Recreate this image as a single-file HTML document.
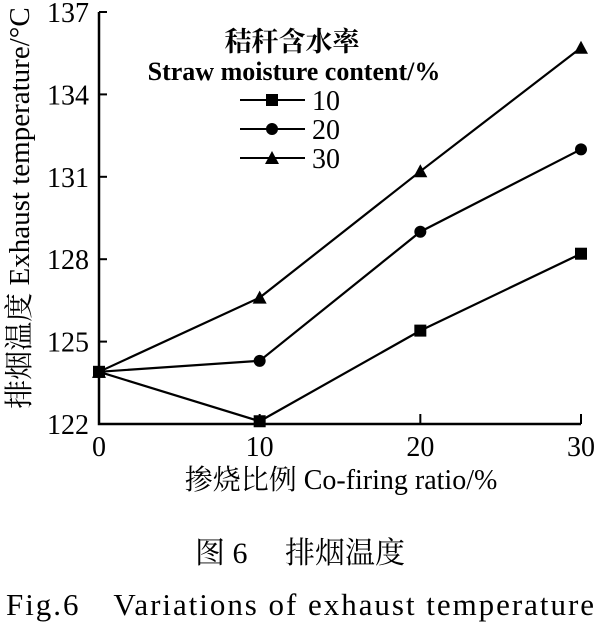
<!DOCTYPE html>
<html><head><meta charset="utf-8"><style>
body{margin:0;background:#fff;width:600px;height:629px;overflow:hidden}
svg text{font-family:"Liberation Serif","Noto Serif CJK SC",serif;fill:#000}
</style></head><body>
<svg width="600" height="629" viewBox="0 0 600 629">
<g id="axes"></g><g id="series"></g>
<text x="300" y="563" font-size="30" text-anchor="middle">图 6　 排烟温度</text>
<text x="300" y="615" font-size="31" text-anchor="middle" textLength="588">Fig.6　Variations of exhaust temperature</text>
</svg>
<script>
const categories=[0,10,20,30];
const yTicks=[122,125,128,131,134,137];
const series10=[123.9,122.1,125.4,128.2];
const series20=[123.9,124.3,129.0,132.0];
const series30=[123.9,126.6,131.2,135.7];
const seriesNames=["10","20","30"];
const NS="http://www.w3.org/2000/svg";
const X0=99,X1=581,Y0=424,Y1=12;
const xs=v=>X0+(v-0)/(30-0)*(X1-X0);
const ys=v=>Y0-(v-122)/(137-122)*(Y0-Y1);
function mk(t,a,p){const e=document.createElementNS(NS,t);for(const k in a)e.setAttribute(k,a[k]);p.appendChild(e);return e;}
const ax=document.getElementById('axes');
let l=mk('path',{d:`M${X0} ${Y1}V${Y0}H${X1}`,stroke:'#000','stroke-width':2.5,fill:'none'},ax);


yTicks.forEach(v=>{
 const t=mk('line',{x1:X0,x2:X0+8,y1:ys(v),y2:ys(v),stroke:'#000','stroke-width':2},ax);
 
 
 const tx=mk('text',{x:X0-10,y:ys(v)+10,'font-size':28,'text-anchor':'end'},ax);tx.textContent=v;
 
 
});
categories.forEach(v=>{
 const t=mk('line',{x1:xs(v),x2:xs(v),y1:Y0,y2:Y0-10,stroke:'#000','stroke-width':2},ax);
 
 
 const tx=mk('text',{x:xs(v),y:Y0+32,'font-size':28,'text-anchor':'middle'},ax);tx.textContent=v;
 
 
});
let xt=mk('text',{x:341,y:489,'font-size':28,'text-anchor':'middle'},ax);xt.textContent='掺烧比例 Co-firing ratio/%';


let yt=mk('text',{x:0,y:0,'font-size':29,'text-anchor':'middle',transform:'translate(29,208) rotate(-90)'},ax);yt.textContent='排烟温度 Exhaust temperature/°C';


let lt1=mk('text',{x:292,y:51,'font-size':27,'font-weight':'bold','text-anchor':'middle'},ax);lt1.textContent='秸秆含水率';


let lt2=mk('text',{x:294,y:80,'font-size':26,'font-weight':'bold','text-anchor':'middle'},ax);lt2.textContent='Straw moisture content/%';


function marker(kind,x,y,p){
 if(kind==0)return mk('rect',{x:x-6,y:y-6,width:12,height:12,fill:'#000'},p);
 if(kind==1)return mk('circle',{cx:x,cy:y,r:6,fill:'#000'},p);
 return mk('path',{d:`M${x} ${y-7}L${x+7} ${y+6}L${x-7} ${y+6}Z`,fill:'#000'},p);
}
const sg=document.getElementById('series');
[series10,series20,series30].forEach((d,i)=>{
 const g=mk('g',{},sg);
 
 
 const pl=mk('polyline',{points:d.map((v,j)=>xs(categories[j])+','+ys(v)).join(' '),fill:'none',stroke:'#000','stroke-width':2.2},g);
 
 
 d.forEach((v,j)=>{const m=marker(i,xs(categories[j]),ys(v),g);
  
  });
 const ly=100+i*29;
 const lg=mk('g',{},sg);
 
 
 mk('line',{x1:240,x2:305,y1:ly,y2:ly,stroke:'#000','stroke-width':2},lg);
 marker(i,272,ly,lg);
 const tx=mk('text',{x:312,y:ly+10,'font-size':28},lg);tx.textContent=seriesNames[i];
});
</script>
</body></html>
